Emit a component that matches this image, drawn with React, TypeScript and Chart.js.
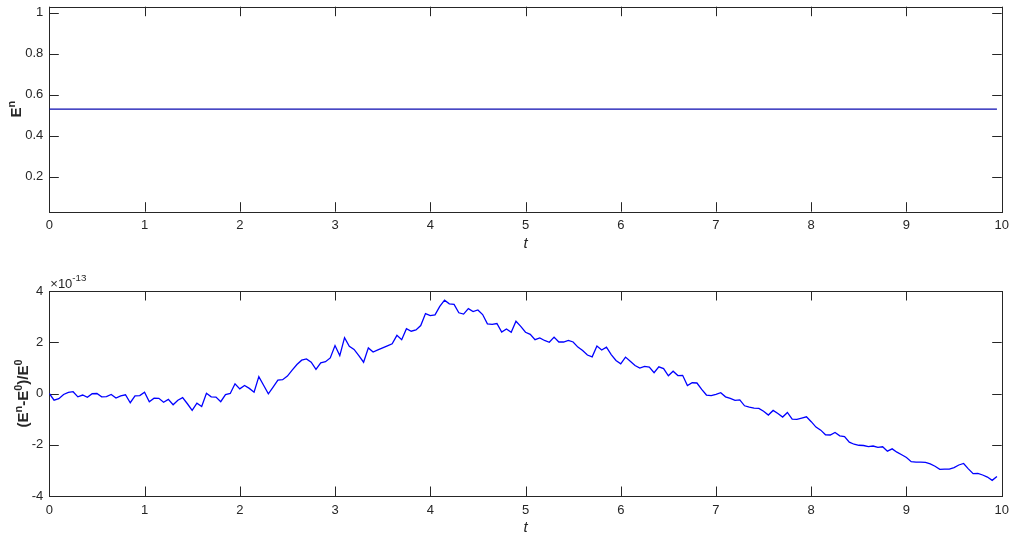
import React, { useEffect, useRef } from "react";
import { Chart, registerables } from "chart.js";

Chart.register(...registerables);

// Time grid of the simulation (step 0.05, 200 samples)
const DT = 0.05;
const SAMPLES = 200;
const TIME = Array.from({ length: SAMPLES }, (_, i) => +(i * DT).toFixed(2));

// Discrete energy E^n (conserved)
const ENERGY_LEVEL = 0.5286;
const ENERGY = TIME.map(() => ENERGY_LEVEL);

// Relative energy error (E^n - E^0)/E^0, in units of 1e-13
const REL_ERROR = [
  0, -0.26, -0.2, -0.04, 0.04, 0.07, -0.13, -0.06, -0.15, -0.01,
  0, -0.13, -0.12, -0.04, -0.18, -0.09, -0.05, -0.36, -0.09, -0.08,
  0.05, -0.32, -0.18, -0.19, -0.34, -0.23, -0.44, -0.26, -0.16, -0.4,
  -0.66, -0.38, -0.51, 0.01, -0.13, -0.14, -0.32, -0.04, 0.0, 0.38,
  0.18, 0.31, 0.2, 0.05, 0.66, 0.32, -0.01, 0.25, 0.52, 0.54,
  0.68, 0.91, 1.13, 1.3, 1.35, 1.22, 0.94, 1.2, 1.24, 1.39,
  1.87, 1.48, 2.18, 1.84, 1.72, 1.48, 1.22, 1.78, 1.62, 1.7,
  1.78, 1.86, 1.94, 2.27, 2.1, 2.53, 2.43, 2.48, 2.65, 3.12,
  3.04, 3.07, 3.4, 3.64, 3.5, 3.48, 3.15, 3.1, 3.31, 3.2,
  3.26, 3.08, 2.72, 2.7, 2.73, 2.4, 2.52, 2.39, 2.82, 2.62,
  2.39, 2.31, 2.1, 2.17, 2.07, 2.0, 2.2, 2.01, 2.01, 2.07,
  2.01, 1.81, 1.68, 1.5, 1.43, 1.85, 1.7, 1.81, 1.52, 1.29,
  1.16, 1.42, 1.26, 1.09, 0.99, 1.06, 1.03, 0.81, 1.04, 0.97,
  0.69, 0.87, 0.7, 0.71, 0.31, 0.42, 0.41, 0.16, -0.06, -0.08,
  -0.03, 0.03, -0.13, -0.19, -0.27, -0.25, -0.48, -0.53, -0.57, -0.58,
  -0.69, -0.84, -0.66, -0.78, -0.92, -0.74, -1.0, -1.01, -0.96, -0.91,
  -1.1, -1.31, -1.43, -1.61, -1.62, -1.52, -1.65, -1.68, -1.9, -1.98,
  -2.02, -2.03, -2.07, -2.05, -2.1, -2.08, -2.25, -2.16, -2.29, -2.39,
  -2.5, -2.66, -2.68, -2.68, -2.69, -2.75, -2.84, -2.96, -2.95, -2.95,
  -2.89, -2.79, -2.73, -2.94, -3.13, -3.12, -3.18, -3.26, -3.39, -3.24,
];

// Axis ranges and tick labels
const X_RANGE = [0, 10];
const X_TICKS = [0, 1, 2, 3, 4, 5, 6, 7, 8, 9, 10];
const TOP_Y_RANGE = [0.0286, 1.0286];
const TOP_Y_TICKS = [0.2, 0.4, 0.6, 0.8, 1];
const BOTTOM_Y_RANGE = [-4, 4];
const BOTTOM_Y_TICKS = [-4, -2, 0, 2, 4];

const AXIS_COLOR = "#262626";
const FONT_FAMILY = '"Liberation Sans", Arial, Helvetica, sans-serif';
const TICK_FONT_SIZE = 13;
const LABEL_FONT_SIZE = 15;
const TICK_LEN = 9.5;

type Run = { text: string; sup?: boolean };

// Draws a run of text with TeX-like superscripts, centred on (x, y)
function drawRuns(
  ctx: CanvasRenderingContext2D,
  runs: Run[],
  x: number,
  y: number,
  size: number,
  style: string,
  rotate: boolean
) {
  const supSize = size * 0.72;
  const fontOf = (s: number) => `${style} ${s}px ${FONT_FAMILY}`;
  const widths = runs.map((r) => {
    ctx.font = fontOf(r.sup ? supSize : size);
    return ctx.measureText(r.text).width;
  });
  const total = widths.reduce((a, b) => a + b, 0);
  ctx.save();
  ctx.translate(x, y);
  if (rotate) ctx.rotate(-Math.PI / 2);
  ctx.fillStyle = AXIS_COLOR;
  ctx.textBaseline = "alphabetic";
  ctx.textAlign = "left";
  let cx = -total / 2;
  const base = size * 0.36;
  runs.forEach((r, i) => {
    ctx.font = fontOf(r.sup ? supSize : size);
    ctx.fillText(r.text, cx, r.sup ? base - size * 0.45 : base);
    cx += widths[i];
  });
  ctx.restore();
}

// Box around the plot area with inward ticks on all four sides
const boxedAxes = {
  id: "boxedAxes",
  beforeDatasetsDraw(chart: any) {
    const { ctx, chartArea: a, scales } = chart;
    ctx.save();
    ctx.strokeStyle = AXIS_COLOR;
    ctx.lineWidth = 1;
    ctx.beginPath();
    for (const t of scales.x.ticks) {
      const px = Math.round(scales.x.getPixelForValue(t.value)) + 0.5;
      ctx.moveTo(px, a.bottom);
      ctx.lineTo(px, a.bottom - TICK_LEN);
      ctx.moveTo(px, a.top);
      ctx.lineTo(px, a.top + TICK_LEN);
    }
    for (const t of scales.y.ticks) {
      const py = Math.round(scales.y.getPixelForValue(t.value)) + 0.5;
      ctx.moveTo(a.left, py);
      ctx.lineTo(a.left + TICK_LEN, py);
      ctx.moveTo(a.right, py);
      ctx.lineTo(a.right - TICK_LEN, py);
    }
    ctx.stroke();
    ctx.strokeRect(
      Math.round(a.left) + 0.5,
      Math.round(a.top) + 0.5,
      Math.round(a.right) - Math.round(a.left),
      Math.round(a.bottom) - Math.round(a.top)
    );
    ctx.restore();
  },
};

function makeConfig(opts: {
  values: number[];
  color: string;
  width: number;
  yRange: number[];
  yTicks: number[];
  padTop: number;
  xAxisHeight: number;
  xTickPad: number;
  yLabel: Run[];
  yLabelX: number;
  tLabelY: number;
  exponent?: boolean;
}) {
  const titles = {
    id: "axisTitles",
    afterDraw(chart: any) {
      const { ctx, chartArea: a } = chart;
      const midX = (a.left + a.right) / 2;
      const midY = (a.top + a.bottom) / 2;
      drawRuns(ctx, [{ text: "t" }], midX, opts.tLabelY, LABEL_FONT_SIZE, "italic", false);
      drawRuns(ctx, opts.yLabel, opts.yLabelX, midY, LABEL_FONT_SIZE, "bold", true);
      if (opts.exponent) {
        ctx.save();
        ctx.fillStyle = AXIS_COLOR;
        ctx.textBaseline = "alphabetic";
        ctx.font = `${TICK_FONT_SIZE}px ${FONT_FAMILY}`;
        const base = "\u00d710";
        ctx.fillText(base, a.left + 1, a.top - 3);
        const w = ctx.measureText(base).width;
        ctx.font = `${TICK_FONT_SIZE * 0.75}px ${FONT_FAMILY}`;
        ctx.fillText("-13", a.left + 1 + w, a.top - 10);
        ctx.restore();
      }
    },
  };

  const tickFont = { family: FONT_FAMILY, size: TICK_FONT_SIZE };

  return {
    type: "line" as const,
    data: {
      datasets: [
        {
          data: TIME.map((t, i) => ({ x: t, y: opts.values[i] })),
          borderColor: opts.color,
          borderWidth: opts.width,
          pointRadius: 0,
          tension: 0,
          fill: false,
        },
      ],
    },
    options: {
      animation: false as const,
      responsive: false,
      events: [],
      layout: { padding: { left: 0, right: 12.3, top: opts.padTop, bottom: 0 } },
      plugins: { legend: { display: false }, tooltip: { enabled: false } },
      scales: {
        x: {
          type: "linear" as const,
          min: X_RANGE[0],
          max: X_RANGE[1],
          afterBuildTicks: (s: any) => {
            s.ticks = X_TICKS.map((v) => ({ value: v }));
          },
          afterFit: (s: any) => {
            s.height = opts.xAxisHeight;
            s.paddingLeft = 0;
            s.paddingRight = 0;
          },
          grid: { display: false, drawTicks: false },
          border: { display: false },
          ticks: {
            padding: opts.xTickPad,
            color: AXIS_COLOR,
            font: tickFont,
            maxRotation: 0,
            autoSkip: false,
            callback: (v: any) => String(v),
          },
        },
        y: {
          type: "linear" as const,
          min: opts.yRange[0],
          max: opts.yRange[1],
          afterBuildTicks: (s: any) => {
            s.ticks = opts.yTicks.map((v) => ({ value: v }));
          },
          afterFit: (s: any) => {
            s.width = 49.3;
            s.paddingTop = 0;
            s.paddingBottom = 0;
          },
          grid: { display: false, drawTicks: false },
          border: { display: false },
          ticks: {
            padding: 6,
            color: AXIS_COLOR,
            font: tickFont,
            autoSkip: false,
            callback: (v: any) => String(v),
          },
        },
      },
    },
    plugins: [boxedAxes, titles],
  };
}

export default function App() {
  const topRef = useRef<HTMLCanvasElement>(null);
  const bottomRef = useRef<HTMLCanvasElement>(null);

  useEffect(() => {
    const top = new Chart(
      topRef.current as HTMLCanvasElement,
      makeConfig({
        values: ENERGY,
        color: "#0b0bb0",
        width: 1.3,
        yRange: TOP_Y_RANGE,
        yTicks: TOP_Y_TICKS,
        padTop: 6.7,
        xAxisHeight: 58.3,
        xTickPad: 6,
        yLabel: [{ text: "E" }, { text: "n", sup: true }],
        yLabelX: 16,
        tLabelY: 243,
      }) as any
    );
    const bottom = new Chart(
      bottomRef.current as HTMLCanvasElement,
      makeConfig({
        values: REL_ERROR,
        color: "#0000ff",
        width: 1.3,
        yRange: BOTTOM_Y_RANGE,
        yTicks: BOTTOM_Y_TICKS,
        padTop: 21,
        xAxisHeight: 45,
        xTickPad: 7,
        yLabel: [
          { text: "(E" },
          { text: "n", sup: true },
          { text: "-E" },
          { text: "0", sup: true },
          { text: ")/E" },
          { text: "0", sup: true },
        ],
        yLabelX: 23,
        tLabelY: 257,
        exponent: true,
      }) as any
    );
    return () => {
      top.destroy();
      bottom.destroy();
    };
  }, []);

  return (
    <div
      style={{
        position: "fixed",
        left: 0,
        top: 0,
        width: 1014,
        height: 541,
        background: "#ffffff",
      }}
    >
      <canvas
        ref={topRef}
        width={1014}
        height={270}
        style={{ position: "absolute", left: 0, top: 0, display: "block" }}
      />
      <canvas
        ref={bottomRef}
        width={1014}
        height={271}
        style={{ position: "absolute", left: 0, top: 270, display: "block" }}
      />
    </div>
  );
}
